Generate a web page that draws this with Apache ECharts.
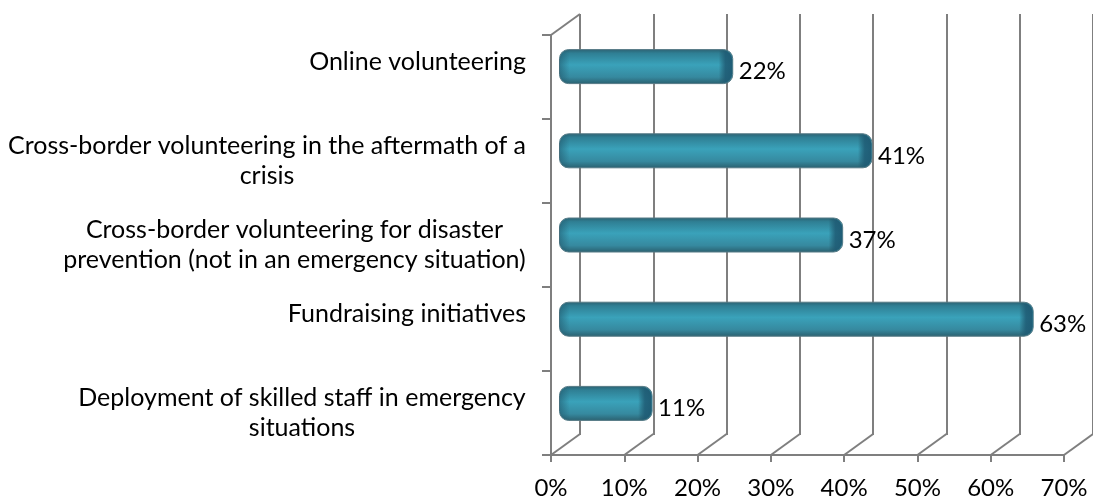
<!DOCTYPE html>
<html><head><meta charset="utf-8">
<style>html,body{margin:0;padding:0;background:#fff}#c{width:1093px;height:500px;filter:blur(0.45px)}</style>
<script src="https://cdn.jsdelivr.net/npm/echarts@6/dist/echarts.min.js"></script></head>
<body><div id="c"></div>
<script>
const categories = [
  "Online volunteering",
  "Cross-border volunteering in the aftermath of a\ncrisis",
  "Cross-border volunteering for disaster\nprevention (not in an emergency situation)",
  "Fundraising initiatives",
  "Deployment of skilled staff in emergency\nsituations"
];
const values = [22, 41, 37, 63, 11];
const xTicks = [0, 10, 20, 30, 40, 50, 60, 70];
const FONT = 'Lato', GREY = '#7f7f7f', SIZE = 25, TICKSIZE = 24;

const ctx = document.createElement('canvas').getContext('2d');
ctx.font = SIZE + 'px ' + FONT;
const rich = {};
categories.forEach((c,i)=>{
  rich['m'+i] = {width:Math.ceil(Math.max(...c.split('\n').map(l=>ctx.measureText(l).width))),
    align:'center',fontFamily:FONT,fontSize:SIZE,lineHeight:30,color:'#000'};
});

const chart = echarts.init(document.getElementById('c'), null, {renderer:'canvas'});
const xBase = {type:'value', min:0, max:70, interval:10};
const yBase = {type:'category', data:categories, inverse:true};
const gridL = 551, gridW = 513, gridT = 35, gridH = 421, dx = 29, dy = 21;

chart.setOption({
  animation:false,
  grid:[
    {left:gridL, width:gridW, top:gridT, height:gridH},
    {left:gridL+dx, width:gridW, top:gridT-dy, height:gridH},
    {left:gridL+dx/2, width:gridW, top:gridT-dy/2, height:gridH}
  ],
  xAxis:[
    {...xBase, gridIndex:0, axisLine:{show:true,lineStyle:{color:GREY,width:2}},
     axisTick:{show:true,length:7,lineStyle:{color:GREY,width:2}}, splitLine:{show:false},
     axisLabel:{show:true,formatter:'{value}%',fontFamily:FONT,fontSize:TICKSIZE,color:'#000',margin:21,hideOverlap:false,alignMinLabel:'center',alignMaxLabel:'center'}},
    {...xBase, gridIndex:1, axisLine:{show:false}, axisTick:{show:false}, axisLabel:{show:false},
     splitLine:{show:true,lineStyle:{color:GREY,width:2}}},
    {...xBase, gridIndex:2, axisLine:{show:false}, axisTick:{show:false}, axisLabel:{show:false}, splitLine:{show:false}}
  ],
  yAxis:[
    {...yBase, gridIndex:0, axisLine:{show:true,onZero:false,lineStyle:{color:GREY,width:2}},
     axisTick:{show:true,length:9,alignWithLabel:false,lineStyle:{color:GREY,width:2}}, splitLine:{show:false},
     axisLabel:{show:true,interval:0,margin:25,color:'#000',fontFamily:FONT,fontSize:SIZE,lineHeight:30,
       formatter:(v,i)=>v.includes('\n')?v.split('\n').map(l=>'{m'+i+'|'+l+'}').join('\n'):v+'\n ',
       rich}},
    {...yBase, gridIndex:1, show:false},
    {...yBase, gridIndex:2, show:false}
  ],
  series:[
    {type:'custom', xAxisIndex:0, yAxisIndex:0, z:1, silent:true, data:xTicks.map(v=>[v,0]),
     renderItem:(p,api)=>{
       const x = api.coord([api.value(0),0])[0], b = p.coordSys.y+p.coordSys.height;
       const line = (x1,y1,x2,y2)=>({type:'line',shape:{x1,y1,x2,y2},style:{stroke:GREY,lineWidth:2}});
       const ch = [line(x,b,x+dx,b-dy)];
       if(api.value(0)===0) ch.push(line(x,p.coordSys.y,x+dx,p.coordSys.y-dy));
       return {type:'group',children:ch};
     }},
    {type:'custom', xAxisIndex:2, yAxisIndex:2, z:3, silent:true, data:values.map((v,i)=>[v,i]),
     encode:{x:0,y:1},
     renderItem:(p,api)=>{
       const end = api.coord([api.value(0),api.value(1)]), start = api.coord([0,api.value(1)]);
       const h = 34, ext = 6, r = 9, cy = end[1], t = cy-h/2;
       const G = echarts.graphic.LinearGradient;
       const body = new G(0,0,0,1,[
         {offset:0,color:'#2b6070'},{offset:.12,color:'#2f7f94'},{offset:.45,color:'#3aa2ba'},
         {offset:.8,color:'#36899f'},{offset:1,color:'#2a5f6e'}]);
       const capShade = new G(0,0,1,0,[{offset:0,color:'rgba(30,80,100,0)'},{offset:.5,color:'rgba(30,90,115,.85)'},{offset:1,color:'rgba(30,90,115,.95)'}]);
       const leftShade = new G(0,0,1,0,[{offset:0,color:'rgba(30,80,100,.5)'},{offset:1,color:'rgba(30,80,100,0)'}]);
       return {type:'group',children:[
         {type:'rect',shape:{x:start[0]-ext,y:t,width:end[0]-start[0]+2*ext,height:h,r:r},style:{fill:body,stroke:'#557a86',lineWidth:1}},
         {type:'rect',shape:{x:start[0]-ext,y:t+1,width:10,height:h-2,r:[r,0,0,r]},style:{fill:leftShade}},
         {type:'rect',shape:{x:end[0]-8,y:t+1,width:13.5,height:h-2,r:[0,r,r,0]},style:{fill:capShade}},
         {type:'text',style:{text:api.value(0)+'%',x:end[0]+ext+6,y:cy+5,verticalAlign:'middle',fontFamily:FONT,fontSize:TICKSIZE,fill:'#000'}}
       ]};
     }}
  ]
});
</script></body></html>
